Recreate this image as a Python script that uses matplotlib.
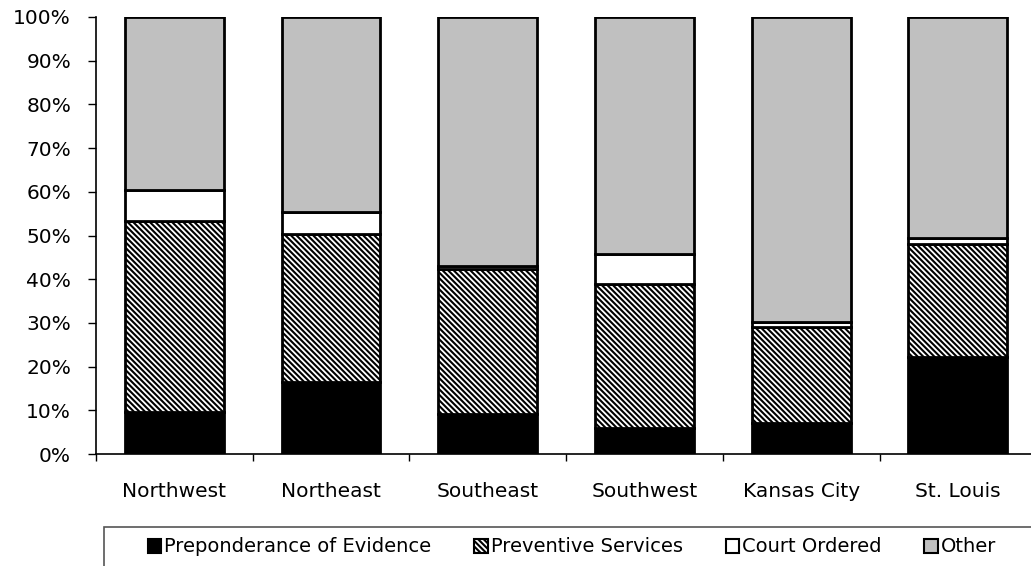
import matplotlib
matplotlib.use("Agg")
import matplotlib.pyplot as plt
from matplotlib.patches import Rectangle, Patch
from matplotlib.ticker import FixedLocator, PercentFormatter
import numpy as np

regions = ["Northwest", "Northeast", "Southeast", "Southwest", "Kansas City", "St. Louis"]
preponderance = [9.7, 16.5, 9.2, 5.9, 7.0, 22.3]
preventive = [43.7, 33.8, 33.1, 33.1, 22.1, 25.7]
court = [7.0, 5.0, 0.8, 6.7, 1.2, 1.4]
other = [39.6, 44.7, 56.9, 54.3, 69.7, 50.6]
series_names = ["Preponderance of Evidence", "Preventive Services", "Court Ordered", "Other"]
y_ticks = [0, 10, 20, 30, 40, 50, 60, 70, 80, 90, 100]

plt.rcParams['font.family'] = ['DejaVu Sans']
plt.rcParams['hatch.linewidth'] = 1.5
plt.rcParams['hatch.color'] = 'black'

W, H = 1031, 566
fig = plt.figure(figsize=(W / 100, H / 100), dpi=100)
ax = fig.add_axes([96 / W, 1 - 454 / H, 1 - 96 / W, (454 - 17) / H])

x = np.arange(len(regions))
width = 0.63
series = [preponderance, preventive, court, other]
styles = [
    dict(facecolor="black", hatch=None),
    dict(facecolor="white", hatch="\\\\\\\\\\\\"),
    dict(facecolor="white", hatch=None),
    dict(facecolor="#C0C0C0", hatch=None),
]
bottom = np.zeros(len(regions))
for vals, st in zip(series, styles):
    ax.bar(x, vals, width, bottom=bottom, facecolor=st["facecolor"], hatch=st["hatch"],
           edgecolor="black", linewidth=2, zorder=3)
    bottom += np.array(vals)

step_px = 156.7
ax.set_xlim(-0.5, -0.5 + (W - 96) / step_px)
ax.set_ylim(0, 100)
ax.set_yticks(y_ticks)
ax.yaxis.set_major_formatter(PercentFormatter(decimals=0))
ax.set_xticks(x)
ax.set_xticklabels(regions)
ax.xaxis.set_minor_locator(FixedLocator(np.arange(-0.5, len(regions), 1.0)))
ax.tick_params(axis="x", which="major", length=0, pad=20, labelsize=14.5)
ax.tick_params(axis="x", which="minor", length=5, width=1, direction="out")
ax.tick_params(axis="y", length=6, width=1, pad=12, labelsize=14.5, direction="out")
for s in ["top", "right"]:
    ax.spines[s].set_visible(False)
for s in ["left", "bottom"]:
    ax.spines[s].set_linewidth(1.2)
    ax.spines[s].set_color("black")

# legend frame
fig.patches.append(Rectangle((104 / W, -0.1), 1.0, (566 - 527) / H + 0.1,
                             transform=fig.transFigure, facecolor="white",
                             edgecolor="#555555", linewidth=1.2, zorder=1))
handles = [Patch(facecolor=st["facecolor"], hatch=st["hatch"],
                 edgecolor="black", linewidth=1.5) for st in styles]
leg = fig.legend(handles, series_names, loc="center", bbox_to_anchor=(572 / W, 1 - 547 / H),
                 ncol=4, frameon=False, fontsize=14, handlelength=0.7, handleheight=0.7,
                 handletextpad=0.15, columnspacing=2.2, borderpad=0)

fig.savefig("out.png", dpi=100)
